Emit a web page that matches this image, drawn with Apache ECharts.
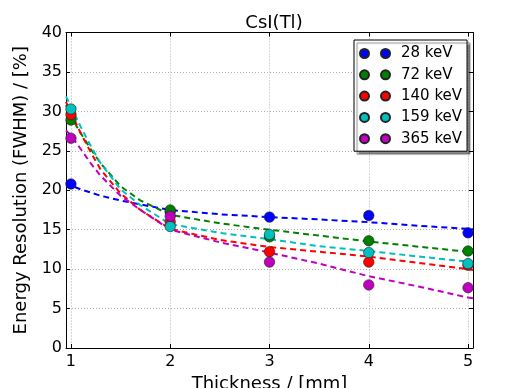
<!DOCTYPE html>
<html>
<head>
<meta charset="utf-8">
<script src="https://cdn.jsdelivr.net/npm/echarts@6/dist/echarts.min.js"></script>
<style>
  html, body { margin: 0; padding: 0; background: #fff; }
  #main { width: 509px; height: 388px; }
</style>
</head>
<body>
<div id="main"></div>
<script>
// measured points
var thickness = [1, 2, 3, 4, 5];
var res28 = [20.8, 17.3, 16.6, 16.8, 14.6];
var res72 = [28.9, 17.5, 14.1, 13.6, 12.3];
var res140 = [29.6, 16.0, 12.2, 10.9, 10.5];
var res159 = [30.3, 15.4, 14.4, 12.1, 10.7];
var res365 = [26.6, 16.7, 10.9, 8.0, 7.65];

// fit curves
var fitX = [0.95, 1.0, 1.1, 1.2, 1.3, 1.5, 1.7, 2.0, 2.5, 3.0, 3.5, 4.0, 4.5, 5.0, 5.05];
var fit28 = [21.0, 20.6, 20.1, 19.7, 19.3, 18.7, 18.2, 17.5, 16.95, 16.6, 16.3, 15.95, 15.5, 15.1, 15.05];
var fit72 = [30.8, 29.3, 27.2, 25.2, 23.4, 20.5, 18.7, 16.9, 15.8, 15.0, 14.25, 13.5, 12.85, 12.2, 12.15];
var fit140 = [31.2, 29.8, 27.2, 24.8, 22.6, 19.6, 17.5, 15.1, 13.7, 12.8, 12.2, 11.6, 10.8, 10.0, 9.9];
var fit159 = [31.9, 30.6, 28.0, 25.6, 23.4, 20.1, 18.1, 15.7, 14.6, 13.8, 12.9, 12.3, 11.6, 10.95, 10.9];
var fit365 = [27.6, 26.9, 25.2, 23.4, 21.8, 19.3, 17.5, 15.0, 13.4, 12.1, 10.7, 9.1, 7.8, 6.4, 6.3];

var names = ['28 keV', '72 keV', '140 keV', '159 keV', '365 keV'];
var colors = ['#0000ff', '#008000', '#ff0000', '#00bfbf', '#bf00bf'];
var tickX = [1, 2, 3, 4, 5];

var points = [res28, res72, res140, res159, res365];
var fits = [fit28, fit72, fit140, fit159, fit365];

function pairs(xs, ys) {
    var out = [];
    for (var i = 0; i < xs.length; i++) {
        out.push([xs[i], ys[i]]);
    }
    return out;
}

var series = [];
for (var i = 0; i < names.length; i++) {
    series.push({
        name: names[i] + ' fit',
        type: 'line',
        data: pairs(fitX, fits[i]),
        smooth: false,
        showSymbol: false,
        silent: true,
        z: 2,
        lineStyle: { color: colors[i], width: 2, type: [6, 4] }
    });
}
for (var i = 0; i < names.length; i++) {
    series.push({
        name: names[i],
        type: 'scatter',
        data: pairs(thickness, points[i]),
        symbolSize: 10.5,
        z: 3 + i,
        itemStyle: { color: colors[i], borderColor: '#222', borderWidth: 0.6, opacity: 1 }
    });
}

var font = 'DejaVu Sans';
// two dots in the legend, like matplotlib numpoints=2
var twoDots = 'path://M0,4.5a4.5,4.5 0 1,0 9,0a4.5,4.5 0 1,0 -9,0M21,4.5a4.5,4.5 0 1,0 9,0a4.5,4.5 0 1,0 -9,0M36,4.5';

var gridStyle = { show: true, lineStyle: { color: '#b0b0b0', type: [1, 2], width: 1 } };

var option = {
    backgroundColor: '#fff',
    animation: false,
    title: {
        text: 'CsI(Tl)',
        left: 269,
        top: 9,
        textAlign: 'center',
        textStyle: { fontFamily: font, fontSize: 18, fontWeight: 'normal', color: '#000' }
    },
    legend: {
        data: names,
        orient: 'vertical',
        left: 354,
        top: 40,
        width: 112,
        padding: [5, 5, 4, 5],
        itemGap: 4.3,
        itemWidth: 36,
        itemHeight: 9,
        icon: twoDots,
        backgroundColor: '#fff',
        borderColor: '#000',
        borderWidth: 1,
        borderRadius: 0,
        shadowColor: 'rgba(0,0,0,0.45)',
        shadowBlur: 1,
        shadowOffsetX: 3,
        shadowOffsetY: 3,
        textStyle: { fontFamily: font, fontSize: 15, color: '#000', lineHeight: 17 }
    },
    grid: { left: 66, right: 36, top: 32.5, bottom: 40, outerBoundsMode: 'none', containLabel: false },
    xAxis: [{
        type: 'value',
        min: 0.95,
        max: 5.05,
        name: 'Thickness / [mm]',
        nameLocation: 'middle',
        nameGap: 21,
        nameTextStyle: { fontFamily: font, fontSize: 18, color: '#000' },
        axisLine: { show: true, lineStyle: { color: '#000', width: 1 } },
        axisTick: { show: true, inside: true, length: 4, customValues: tickX, lineStyle: { color: '#000' } },
        axisLabel: { customValues: tickX, fontFamily: font, fontSize: 16, color: '#000', margin: 6 },
        splitLine: gridStyle
    }, {
        type: 'value',
        position: 'top',
        min: 0.95,
        max: 5.05,
        axisLine: { show: true, onZero: false, lineStyle: { color: '#000', width: 1 } },
        axisTick: { show: true, inside: true, length: 4, customValues: tickX, lineStyle: { color: '#000' } },
        axisLabel: { show: false },
        splitLine: { show: false }
    }],
    yAxis: [{
        type: 'value',
        min: 0,
        max: 40,
        interval: 5,
        name: 'Energy Resolution (FWHM) / [%]',
        nameLocation: 'middle',
        nameGap: 26,
        nameTextStyle: { fontFamily: font, fontSize: 18, color: '#000' },
        axisLine: { show: true, lineStyle: { color: '#000', width: 1 } },
        axisTick: { show: true, inside: true, length: 4, lineStyle: { color: '#000' } },
        axisLabel: { fontFamily: font, fontSize: 16, color: '#000', margin: 4 },
        splitLine: gridStyle
    }, {
        type: 'value',
        position: 'right',
        min: 0,
        max: 40,
        interval: 5,
        axisLine: { show: true, onZero: false, lineStyle: { color: '#000', width: 1 } },
        axisTick: { show: true, inside: true, length: 4, lineStyle: { color: '#000' } },
        axisLabel: { show: false },
        splitLine: { show: false }
    }],
    series: series
};

var myChart = echarts.init(document.getElementById('main'));
myChart.setOption(option);
</script>
</body>
</html>
